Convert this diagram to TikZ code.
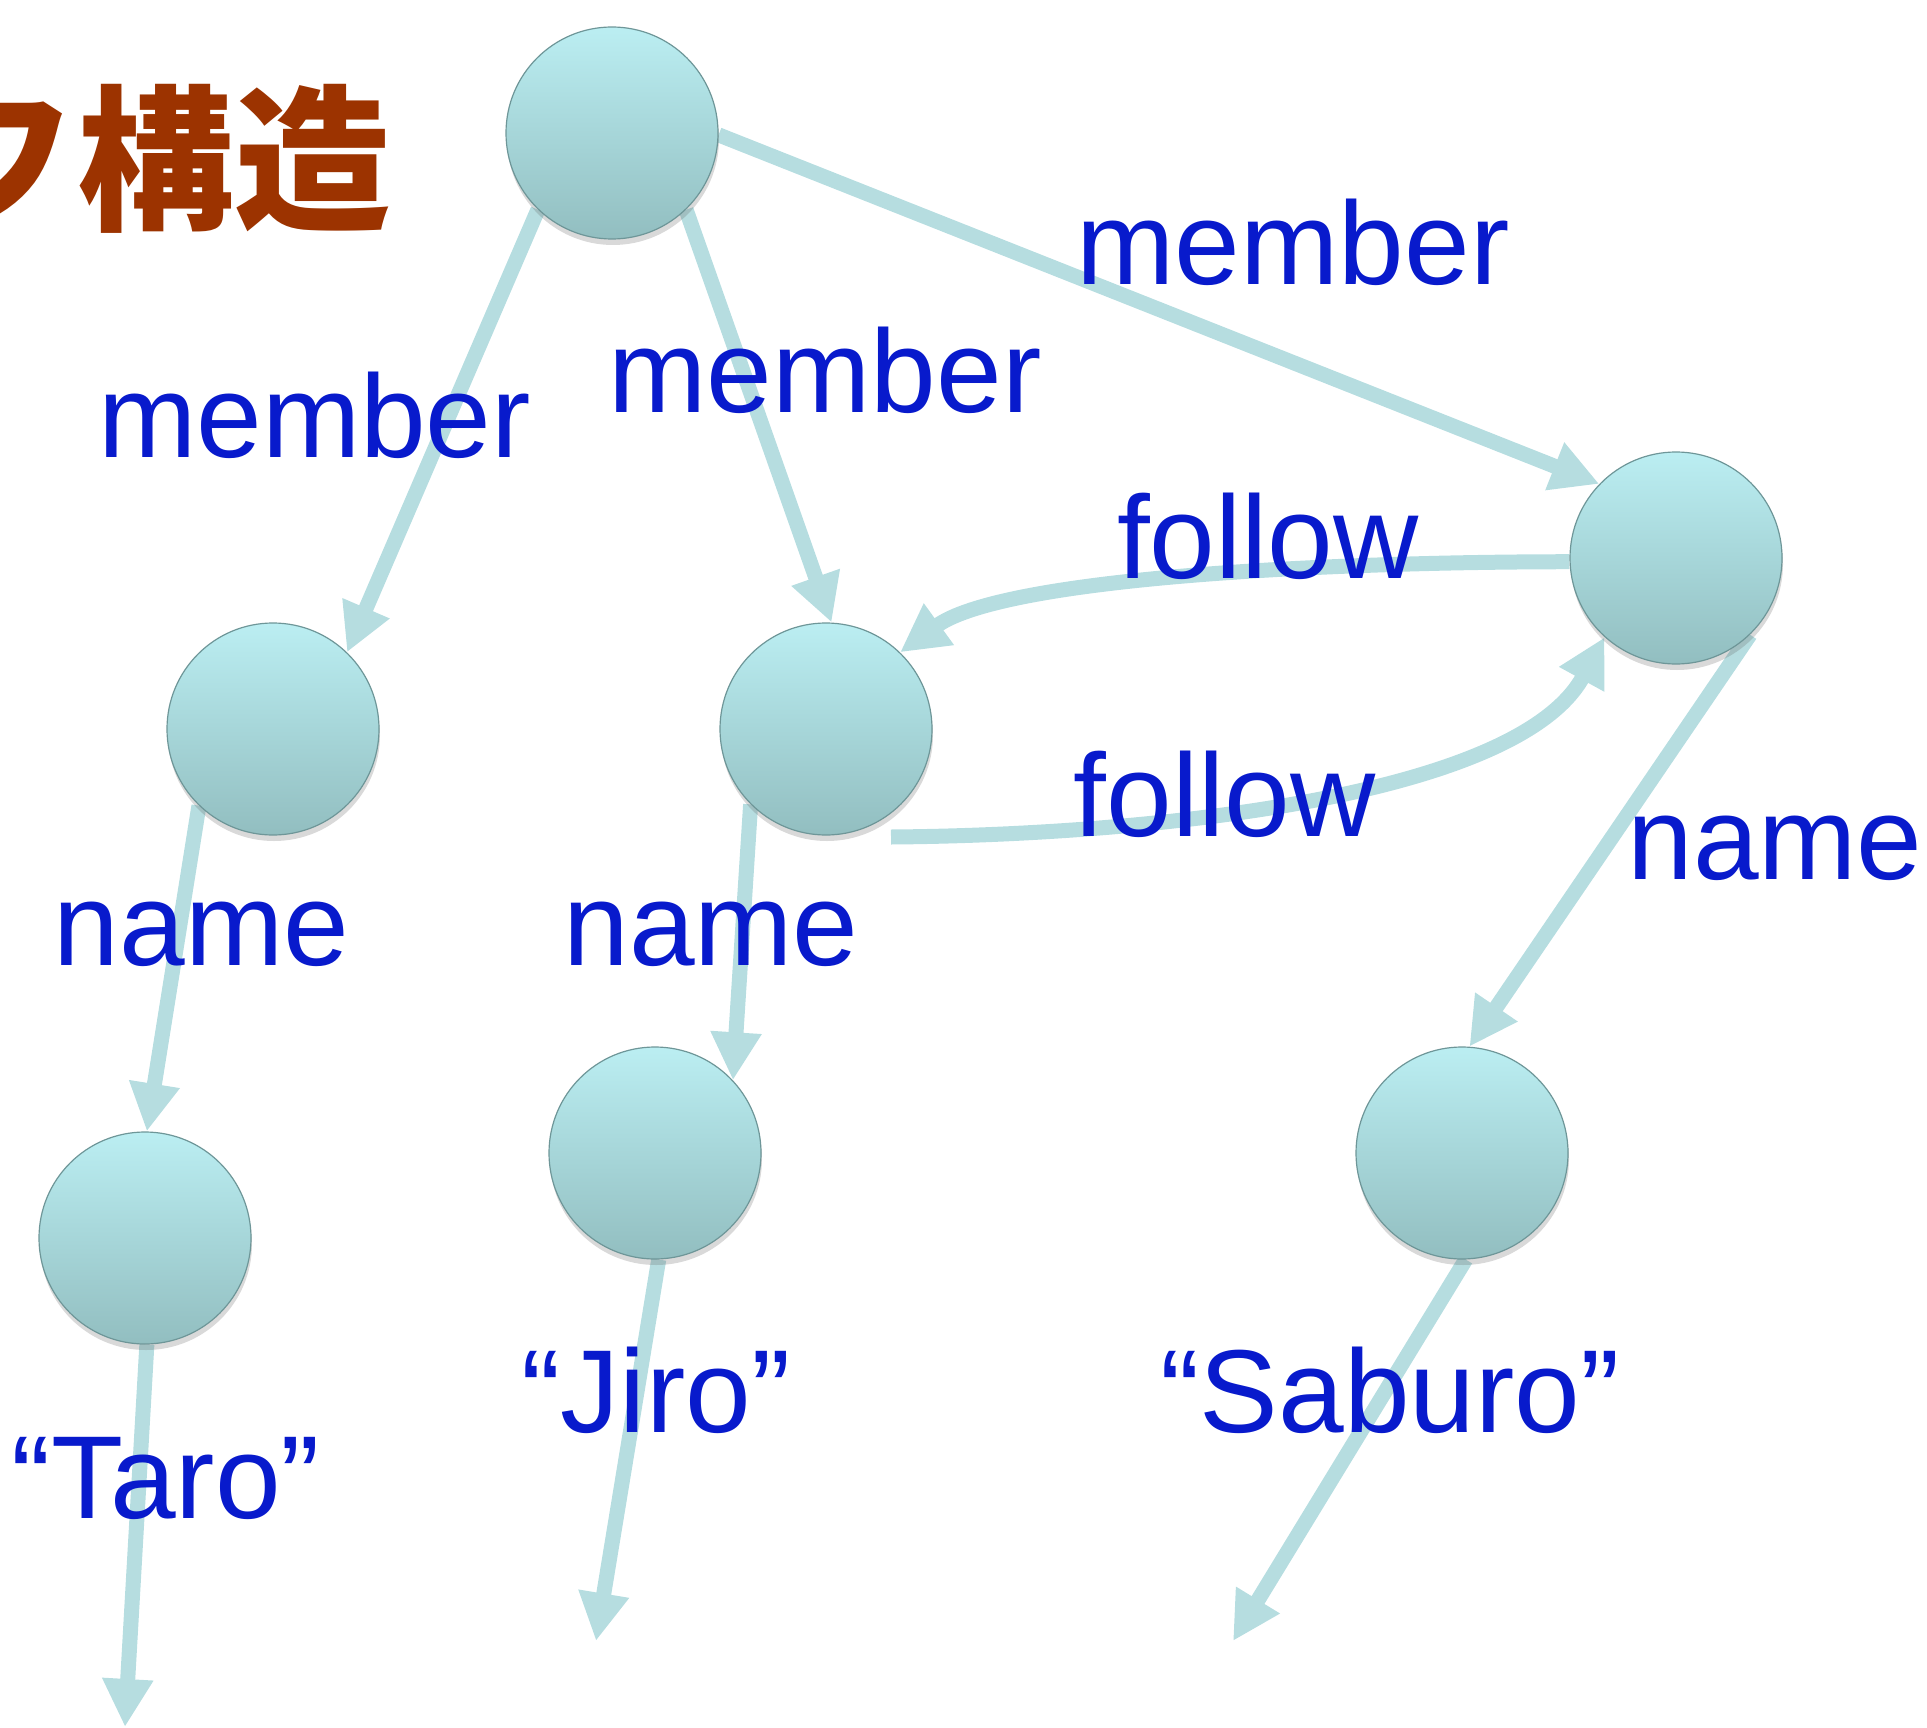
\documentclass[tikz,border=0pt]{standalone}
\usepackage{fontspec}
\setmainfont{Liberation Sans}
\newfontfamily\cjk{Noto Sans CJK JP}
\usetikzlibrary{arrows.meta,shadows,backgrounds}
\definecolor{edgec}{RGB}{182,221,224}
\definecolor{labc}{RGB}{8,26,204}
\definecolor{titlec}{RGB}{156,51,0}
\definecolor{ntop}{RGB}{187,238,242}
\definecolor{nbot}{RGB}{146,190,192}
\definecolor{nrim}{RGB}{110,150,152}
\begin{document}
\begin{tikzpicture}[x=1pt,y=-1pt,
  gnode/.style={circle,minimum size=212pt,inner sep=0pt,top color=ntop,bottom color=nbot,
    draw=nrim,line width=1.2pt,
    drop shadow={shadow xshift=1pt,shadow yshift=-6pt,opacity=0.25,fill=black!60}},
  edge/.style={draw=edgec,line width=15pt,-{Triangle[length=48pt,width=48pt]}},
  lab/.style={text=labc,font=\fontsize{118}{130}\selectfont,inner sep=0pt,anchor=base}]
\useasboundingbox (0,0) rectangle (1927,1728);
% title (clipped at the left edge, as in the reference)
\node[anchor=east,inner sep=0pt,text=titlec,font=\cjk\bfseries\fontsize{157}{160}\selectfont] (title) at (392,159) {フ構造};
% nodes
\path (612,133) node[gnode] (T) {}
      (1676,558) node[gnode] (R) {}
      (273,729) node[gnode] (L) {}
      (826,729) node[gnode] (M) {}
      (145,1238) node[gnode] (BL) {}
      (655,1153) node[gnode] (BM) {}
      (1462,1153) node[gnode] (BR) {};
\coordinate (fb) at (891,837);
\coordinate (eL) at (125,1727);
\coordinate (eM) at (596,1641);
\coordinate (eR) at (1233,1641);
% edges (behind nodes)
\begin{scope}[on background layer]
\draw[edge] (T.226) -- (L.46);
\draw[edge] (T.314) -- (M.87);
\draw[edge] (T.359) -- (R.136);
\draw[edge] (R.182) .. controls (1300,562) and (1000,580) .. (M.46);
\draw[edge] (fb) .. controls (1150,835) and (1517,797) .. (R.228);
\draw[edge] (L.226) -- (BL.89);
\draw[edge] (M.225) -- (BM.43);
\draw[edge] (R.314) -- (BR.86);
\draw[edge] (BL.271) -- (eL);
\draw[edge] (BM.272) -- (eM);
\draw[edge] (BR.272) -- (eR);
\end{scope}
% labels
\node[lab] (l1) at (314.5,457) {member};
\node[lab] (l2) at (825,412) {member};
\node[lab] (l3) at (1293,285) {member};
\node[lab] (l4) at (1268,578) {follow};
\node[lab] (l5) at (1224.5,836) {follow};
\node[lab] (l6) at (201.5,965) {name};
\node[lab] (l7) at (711,965) {name};
\node[lab] (l8) at (1775,879) {name};
\node[lab] (l9) at (166,1518) {“Taro”};
\node[lab] (l10) at (656,1432) {“Jiro”};
\node[lab] (l11) at (1390,1432) {“Saburo”};
\end{tikzpicture}
\end{document}
